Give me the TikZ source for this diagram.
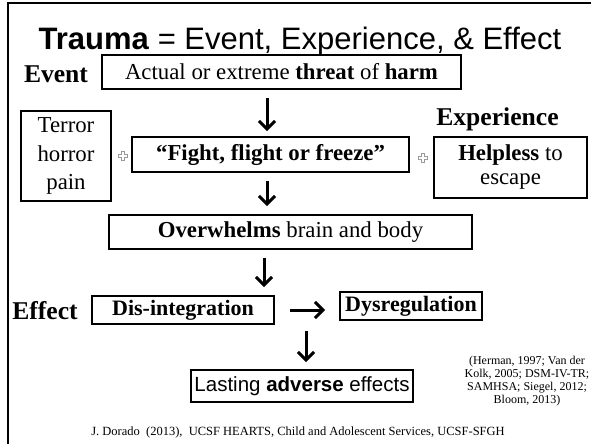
\documentclass[tikz,border=0pt]{standalone}
\usepackage{fontspec}
\setmainfont{Liberation Serif}
\setsansfont{Liberation Sans}
\usetikzlibrary{arrows.meta}
\begin{document}
\begin{tikzpicture}[x=1pt,y=-1pt,
  box/.style={draw, line width=1.8pt, inner sep=0pt, align=center, font=\fontsize{22.8}{26}\selectfont},
  lab/.style={font=\fontsize{25.6}{28}\selectfont\bfseries, inner sep=0pt},
  arr/.style={line width=3pt, -{Straight Barb[length=8pt,width=16pt,line width=3pt]}},
  plus/.style={draw=gray!80, line width=0.6pt, fill=white}
]
\useasboundingbox (0,0) rectangle (591,444);
\draw[line width=2.5pt] (8,444) -- (8,3) -- (591,3);

\node[font=\fontsize{31}{34}\selectfont\sffamily, anchor=base, inner sep=0pt] (title) at (300,50) {\textbf{Trauma} = Event, Experience, \& Effect};

\node[lab, anchor=base] (evlab) at (56,82) {Event};
\node[box, minimum width=359pt, minimum height=34pt] (ev) at (281.5,72) {Actual or extreme \textbf{threat} of \textbf{harm}};

\node[lab, anchor=base] (exlab) at (497.5,125) {Experience};

\node[box, minimum width=90pt, minimum height=90pt, font=\fontsize{22.8}{28.5}\selectfont] (ter) at (66,156) {Terror\\horror\\pain};
\node[box, minimum width=277pt, minimum height=35pt] (fff) at (270.5,154.5) {\textbf{“Fight, flight or freeze”}};
\node[box, minimum width=153pt, minimum height=61pt, font=\fontsize{22.8}{24}\selectfont] (help) at (510.5,167.5) {\textbf{Helpless} to\\escape};

\draw[plus] (123,156) ++(-1.5,-4.5) -- ++(3,0) -- ++(0,3) -- ++(3,0) -- ++(0,3) -- ++(-3,0) -- ++(0,3) -- ++(-3,0) -- ++(0,-3) -- ++(-3,0) -- ++(0,-3) -- ++(3,0) -- cycle;
\draw[plus] (423,158) ++(-1.5,-4.5) -- ++(3,0) -- ++(0,3) -- ++(3,0) -- ++(0,3) -- ++(-3,0) -- ++(0,3) -- ++(-3,0) -- ++(0,-3) -- ++(-3,0) -- ++(0,-3) -- ++(3,0) -- cycle;

\node[box, minimum width=363pt, minimum height=34pt] (ovr) at (290.5,232) {\textbf{Overwhelms} brain and body};

\draw[arr] ([xshift=-14.5pt,yshift=-8pt]ev.south) -- ([xshift=-3.5pt,yshift=5pt]fff.north);
\draw[arr] ([xshift=-3.5pt,yshift=-8pt]fff.south) -- ([xshift=-23.5pt,yshift=8pt]ovr.north);

\node[lab, anchor=base] (eflab) at (45,319) {Effect};
\node[box, font=\fontsize{22}{24}\selectfont\bfseries, minimum width=182pt, minimum height=28pt] (dis) at (183,310) {Dis-integration};
\node[box, font=\fontsize{22}{24}\selectfont\bfseries, minimum width=142pt, minimum height=28pt] (dys) at (411,306) {Dysregulation};

\draw[arr] ([xshift=-26.5pt,yshift=-8pt]ovr.south) -- ([xshift=81pt,yshift=8pt]dis.north);
\draw[arr] ([xshift=15pt]dis.east) -- ([xshift=-14pt]dys.west |- dis.east);

\node[box, font=\fontsize{20.5}{24}\selectfont\sffamily, minimum width=222pt, minimum height=32pt] (last) at (302,386) {Lasting \textbf{adverse} effects};
\coordinate (dstart) at (306,331);
\draw[arr] (dstart) -- ([xshift=4pt,yshift=7pt]last.north);

\node[font=\fontsize{12}{13}\selectfont, align=center, anchor=north, inner sep=0pt] (cite) at (527,356) {(Herman, 1997; Van der\\Kolk, 2005; DSM-IV-TR;\\SAMHSA; Siegel, 2012;\\Bloom, 2013)};

\node[font=\fontsize{12.5}{14}\selectfont, anchor=base, inner sep=0pt] (foot) at (298,435) {J. Dorado\ \ (2013),\ \ UCSF HEARTS, Child and Adolescent Services, UCSF-SFGH};
\end{tikzpicture}
\end{document}
